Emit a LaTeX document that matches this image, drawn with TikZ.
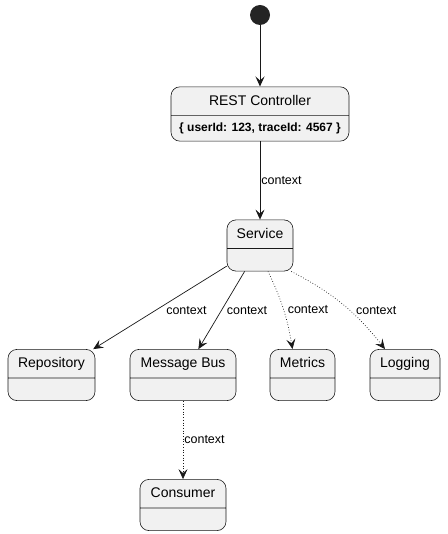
\documentclass[tikz,border=0pt]{standalone}
\usepackage{fontspec}
\setmainfont{Liberation Sans}
\usetikzlibrary{arrows.meta, shapes.multipart}

\definecolor{boxfill}{HTML}{F1F1F1}
\definecolor{boxline}{HTML}{181818}

\tikzset{
    state/.style={rectangle split, rectangle split parts=2, draw=boxline, fill=boxfill,
        rounded corners=9pt, line width=0.6pt, inner xsep=4pt, inner ysep=7pt,
        text height=11pt, text depth=3pt,
        rectangle split empty part height=8pt, rectangle split empty part depth=0pt,
        font=\fontsize{14}{16}\selectfont},
    flow/.style={draw=boxline, line width=0.7pt, -{Stealth[length=10pt, width=9pt, inset=4pt]}},
    weak/.style={flow, dotted},
    lbl/.style={font=\fontsize{12.5}{14}\selectfont, inner sep=1pt, anchor=west},
}

\begin{document}
\begin{tikzpicture}[x=1pt, y=-1pt]
            \useasboundingbox (0,0) rectangle (447,534);

            \node[circle, fill=boxline!95, minimum size=20pt, inner sep=0pt] (start) at (260,15) {};
            \node[state, minimum width=178pt] (rest) at (260,114)
                {REST Controller \nodepart{two} \fontsize{12}{14}\bfseries \{ userId: 123, traceId: 4567 \}};
            \node[state, minimum width=66pt] (serv) at (260,245.5) {Service};
            \node[state, minimum width=87pt] (repo) at (51.5,375) {Repository};
            \node[state, minimum width=106pt] (bus) at (183,375) {Message Bus};
            \node[state, minimum width=65pt] (metr) at (302.5,375) {Metrics};
            \node[state, minimum width=70pt] (logg) at (405,375) {Logging};
            \node[state, minimum width=86pt] (cons) at (183,505) {Consumer};

            \draw[flow] (start) -- (rest);
            \draw[flow] (rest) -- node[lbl, pos=0.5] (c0) {context} (serv);
            \draw[flow] (serv) -- node[lbl, pos=0.53, xshift=9pt] (c1) {context} (repo);
            \draw[flow] (serv) -- node[lbl, pos=0.5, xshift=4pt] (c2) {context} (bus);
            \draw[weak] ([xshift=8pt]serv.south) to[bend left=8] node[lbl, pos=0.5, xshift=3pt] (c3) {context} ([xshift=-10pt]metr.north);
            \draw[weak] ([xshift=-2pt]serv.south east) to[bend left=12] node[lbl, pos=0.58, xshift=5pt] (c4) {context} ([xshift=-20pt]logg.north);
            \draw[weak] (bus) -- node[lbl, pos=0.5] (c5) {context} (cons);
        \end{tikzpicture}
\end{document}
